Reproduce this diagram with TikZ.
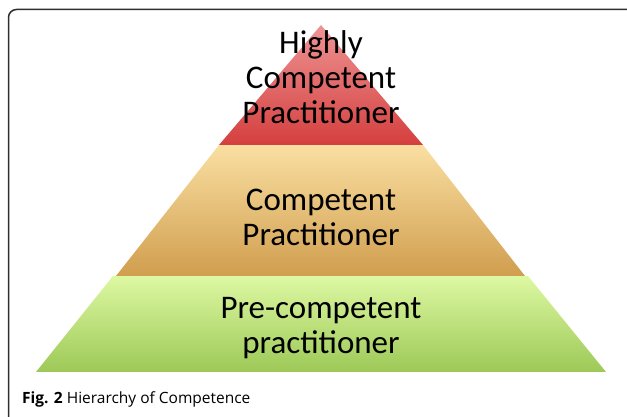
\documentclass[tikz,border=0pt]{standalone}
\usepackage{fontspec}
\setmainfont{Carlito}
\newfontfamily\capfont{Open Sans}
\usetikzlibrary{positioning}
\definecolor{redtop}{HTML}{EE9494}
\definecolor{redbot}{HTML}{D43F3E}
\definecolor{tantop}{HTML}{FADFA2}
\definecolor{tanbot}{HTML}{D09E4E}
\definecolor{grntop}{HTML}{DDF8A2}
\definecolor{grnbot}{HTML}{9DC957}
\definecolor{framegray}{HTML}{2E2E2E}
\begin{document}
\begin{tikzpicture}[x=1pt,y=1pt,
  level/.style={align=center,font=\fontsize{33}{35}\selectfont,text=black,inner sep=0pt},
  caption/.style={anchor=west,font=\capfont\fontsize{15.5}{18}\selectfont,inner sep=0pt}]
\useasboundingbox (0,0) rectangle (627,417);
% frame, open at the bottom and right
\draw[framegray,line width=1.5pt,rounded corners=8pt] (8.5,0) -- (8.5,407.5) -- (627,407.5);
% pyramid corners
\coordinate (apex) at (321,392);
\coordinate (redL) at (219,272);
\coordinate (redR) at (423,272);
\coordinate (tanL) at (116,141);
\coordinate (tanR) at (525,141);
\coordinate (grnL) at (113,141);
\coordinate (grnR) at (528,141);
\coordinate (baseL) at (36,45);
\coordinate (baseR) at (606,45);
% the three levels
\shade[top color=grntop,bottom color=grnbot] (grnL) -- (grnR) -- (baseR) -- (baseL) -- cycle;
\shade[top color=tantop,bottom color=tanbot] (redL) -- (redR) -- (tanR) -- (tanL) -- cycle;
\shade[top color=redtop,bottom color=redbot] (apex) -- (redR) -- (redL) -- cycle;
% labels
\node[level] (high) at (321,340) {Highly\\Competent\\Practitioner};
\node[level] (comp) at (321,200) {Competent\\Practitioner};
\node[level] (pre) at (321,89) {Pre-competent\\practitioner};
\node[caption] (cap) at (22,18) {\textbf{Fig. 2} Hierarchy of Competence};
\end{tikzpicture}
\end{document}
